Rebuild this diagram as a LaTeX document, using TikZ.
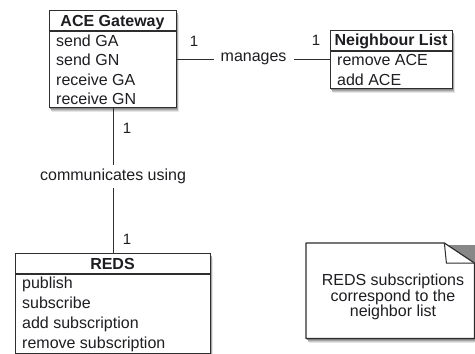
\documentclass[tikz,border=0pt]{standalone}
\usepackage{fontspec}
\setmainfont{Liberation Sans}
\definecolor{edge}{HTML}{2E2E2E}
\definecolor{ink}{HTML}{1E1E22}
\definecolor{shadeA}{HTML}{E6E6E6}
\definecolor{shadeB}{HTML}{C8C8C8}
\definecolor{shadeC}{HTML}{A6A6A6}
\definecolor{shadeD}{HTML}{888888}
% layered soft shadow for a box with top-left (#1,#2) and bottom-right (#3,#4)
\newcommand\dropshade[4]{%
  \fill[shadeA] ({#1+3},{#2-5}) rectangle ({#3+3},{#4-5});
  \fill[shadeB] ({#1+2.4},{#2-4}) rectangle ({#3+2.4},{#4-4});
  \fill[shadeC] ({#1+1.8},{#2-3}) rectangle ({#3+1.8},{#4-3});
  \fill[shadeD] ({#1+1.2},{#2-2}) rectangle ({#3+1.2},{#4-2});
}
\begin{document}
\begin{tikzpicture}[x=1pt,y=1pt,
  font=\fontsize{16}{19}\selectfont, text=ink,
  classbox/.style={draw=edge, line width=1.2pt, fill=white, inner sep=0pt,
    anchor=north west},
  sepline/.style={draw=edge, line width=1.2pt},
  title/.style={font=\fontsize{16}{19}\selectfont\bfseries, inner sep=0pt, anchor=base},
  item/.style={inner sep=0pt, anchor=base west},
  mult/.style={inner sep=0pt, anchor=base, font=\fontsize{15}{18}\selectfont},
  assoc/.style={draw=edge, line width=1pt},
  rolelabel/.style={fill=white, inner xsep=7pt, inner ysep=4pt},
  notetext/.style={inner sep=0pt, align=center, font=\fontsize{16}{15.5}\selectfont}]
\fill[white] (0,0) rectangle (475,-354);
\useasboundingbox (0,0) rectangle (475,-354);

% shadows under the boxes
\dropshade{49}{-10}{176}{-107}
\dropshade{330}{-30}{452}{-88}
\dropshade{15}{-253}{210}{-353}
\dropshade{306}{-243}{474}{-338}

% ACE Gateway class
\node[classbox, minimum width=127pt, minimum height=97pt] (ace) at (49,-10) {};
\draw[sepline] ([yshift=-21]ace.north west) -- ([yshift=-21]ace.north east);
\node[title] (acetitle) at (112.5,-26) {ACE Gateway};
\node[item] (ace1) at (56,-46.5) {send GA};
\node[item] (ace2) at (56,-65.8) {send GN};
\node[item] (ace3) at (56,-85.1) {receive GA};
\node[item] (ace4) at (56,-104.4) {receive GN};

% Neighbour List class
\node[classbox, minimum width=122pt, minimum height=58pt] (nl) at (330,-30) {};
\draw[sepline] ([yshift=-21]nl.north west) -- ([yshift=-21]nl.north east);
\node[title] (nltitle) at (391,-45) {Neighbour List};
\node[item] (nl1) at (337,-65) {remove ACE};
\node[item] (nl2) at (337,-85) {add ACE};

% REDS class
\node[classbox, minimum width=195pt, minimum height=100pt] (reds) at (15,-253) {};
\draw[sepline] ([yshift=-21]reds.north west) -- ([yshift=-21]reds.north east);
\node[title] (redstitle) at (112.5,-269) {REDS};
\node[item] (reds1) at (22,-288) {publish};
\node[item] (reds2) at (22,-308) {subscribe};
\node[item] (reds3) at (22,-328) {add subscription};
\node[item] (reds4) at (22,-348) {remove subscription};

% associations
\draw[assoc] (ace.east) -- node[rolelabel] (manages) {manages} (ace.east -| nl.west);
\draw[assoc] (ace.south) -- node[rolelabel, pos=0.47, inner xsep=2pt, inner ysep=4pt] (comm) {communicates using} (reds.north);

% multiplicities
\node[mult] (m1) at (194,-46) {1};
\node[mult] (m2) at (316,-45) {1};
\node[mult] (m3) at (127,-133) {1};
\node[mult] (m4) at (127,-244) {1};

% note with folded corner
\node[minimum width=168pt, minimum height=95pt, inner sep=0pt, anchor=north west] (note) at (306,-243) {};
\filldraw[fill=white, draw=edge, line width=1.2pt, line join=round]
  (note.north west) -- ([xshift=-30]note.north east) -- ([yshift=-20]note.north east)
  -- (note.south east) -- (note.south west) -- cycle;
\draw[draw=edge, line width=1pt]
  ([xshift=-30]note.north east) -- ([xshift=-28,yshift=-20]note.north east) -- ([yshift=-20]note.north east);
\node[notetext, anchor=north] (notebody) at (393,-274) {REDS subscriptions\\correspond to the\\neighbor list};
\end{tikzpicture}
\end{document}
